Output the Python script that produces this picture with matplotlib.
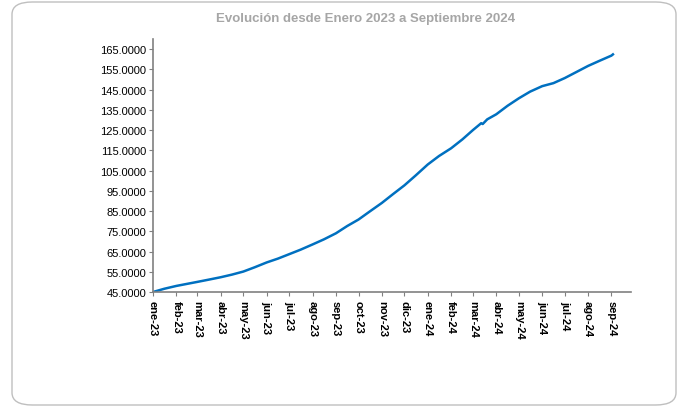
import pandas as pd
import matplotlib
matplotlib.use("Agg")
import matplotlib.pyplot as plt
from matplotlib.patches import FancyBboxPatch
from matplotlib.ticker import FormatStrFormatter

# readings taken off the reference curve (start and middle of each month)
dates = [
    "2023-01-01", "2023-01-16", "2023-02-01", "2023-02-15", "2023-03-01", "2023-03-16",
    "2023-04-01", "2023-04-16", "2023-05-01", "2023-05-16", "2023-06-01", "2023-06-16",
    "2023-07-01", "2023-07-16", "2023-08-01", "2023-08-16", "2023-09-01", "2023-09-16",
    "2023-10-01", "2023-10-16", "2023-11-01", "2023-11-16", "2023-12-01", "2023-12-16",
    "2024-01-01", "2024-01-16", "2024-02-01", "2024-02-16", "2024-03-01", "2024-03-12",
    "2024-03-14", "2024-03-20", "2024-04-01", "2024-04-16", "2024-05-01", "2024-05-16",
    "2024-06-01", "2024-06-16", "2024-07-01", "2024-07-16", "2024-08-01", "2024-08-16",
    "2024-09-01", "2024-09-03",
]
values = [
    45.0, 46.6, 48.0, 49.0, 50.0, 51.1,
    52.3, 53.6, 55.1, 57.2, 59.6, 61.5,
    63.7, 65.9, 68.5, 71.0, 74.0, 77.6,
    80.8, 84.8, 89.0, 93.4, 97.7, 102.6,
    108.0, 112.2, 116.0, 120.4, 125.0, 128.4,
    128.0, 130.3, 132.8, 137.0, 140.7, 144.0,
    146.7, 148.2, 150.7, 153.6, 156.7, 159.2,
    161.8, 162.4,
]
month_labels = [
    "ene-23", "feb-23", "mar-23", "abr-23", "may-23", "jun-23", "jul-23",
    "ago-23", "sep-23", "oct-23", "nov-23", "dic-23", "ene-24", "feb-24",
    "mar-24", "abr-24", "may-24", "jun-24", "jul-24", "ago-24", "sep-24",
]
TITLE = "Evolución desde Enero 2023 a Septiembre 2024"

plt.rcParams["font.family"] = ["Liberation Sans", "DejaVu Sans"]

x = pd.to_datetime(dates)
ticks = pd.date_range("2023-01-01", periods=len(month_labels), freq="MS")

fig = plt.figure(figsize=(6.81, 4.10), dpi=100)

# rounded frame around the chart
frame = FancyBboxPatch((12 / 681, 4 / 410), 664 / 681, 403 / 410,
                       boxstyle="round,pad=0,rounding_size=0.03",
                       transform=fig.transFigure, facecolor="white",
                       edgecolor="#bfbfbf", linewidth=1.0, zorder=-1)
fig.patches.append(frame)

ax = fig.add_axes([153 / 681, 117 / 410, 478 / 681, 253 / 410])
ax.plot(x, values, color="#0070c0", linewidth=1.8)

ax.set_xlim(pd.Timestamp("2023-01-01"), pd.Timestamp("2024-09-27"))
ax.set_ylim(45, 170)
ax.set_yticks(range(45, 166, 10))
ax.yaxis.set_major_formatter(FormatStrFormatter("%.4f"))
ax.set_xticks(ticks)
ax.set_xticklabels(month_labels, rotation=-90, fontweight="bold", fontsize=8)
ax.tick_params(axis="y", labelsize=8, length=3, color="#808080", pad=2)
ax.tick_params(axis="x", length=3, color="#808080", pad=3)

for side in ["top", "right"]:
    ax.spines[side].set_visible(False)
for side in ["left", "bottom"]:
    ax.spines[side].set_color("#808080")
    ax.spines[side].set_linewidth(1.2)

fig.text(366 / 681, 1 - 19 / 410, TITLE, ha="center", va="center",
         fontsize=9.5, fontweight="bold", color="#a6a6a6")

fig.savefig("out.png", dpi=100)
